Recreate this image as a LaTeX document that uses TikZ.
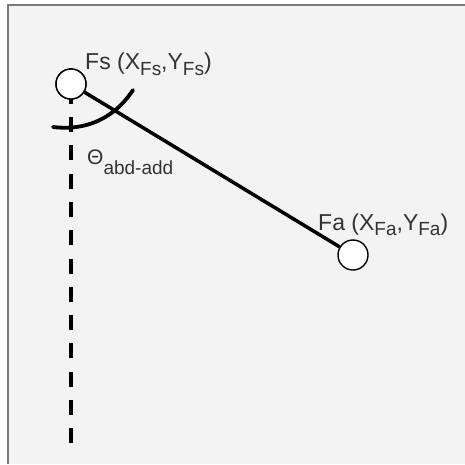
\documentclass[tikz,border=0pt]{standalone}
\usepackage{fontspec}
\setmainfont{Liberation Sans}
\definecolor{paper}{HTML}{F3F3F3}
\definecolor{frame}{HTML}{7A7A7A}
\definecolor{ink}{HTML}{333333}
\newcommand{\lowsub}[2]{\raisebox{#1}{\fontsize{19}{21}\selectfont #2}}
\begin{document}
\begin{tikzpicture}[x=1pt, y=-1pt,
    joint/.style={circle, draw, fill=white, line width=1.4pt, minimum size=30pt, inner sep=0pt},
    lbl/.style={text=ink, font=\fontsize{23}{26}\selectfont, inner sep=0pt, anchor=base west}]
    % Canvas
    \fill[white] (0,0) rectangle (465,464);
    \useasboundingbox (0,0) rectangle (465,464);
    \fill[paper] (8,5) rectangle (465,464);
    \draw[frame, line width=2pt] (8,464) -- (8,5) -- (465,5);

    % Joints
    \node[joint] (fs) at (71,84) {};
    \node[joint] (fa) at (353,255) {};
    \coordinate (vend) at (71,443);

    % Vertical reference
    \draw[line width=4pt, dash pattern=on 15pt off 13.3pt, dash phase=23.6pt] (fs.center) -- (vend);
    \node[joint] at (fs) {};

    % Segment
    \draw[line width=3.5pt] (fs) -- (fa);

    % Angle
    \draw[line width=3.8pt, line cap=round] (53,127) .. controls (95,132) and (120,110) .. (133,90);

    % Labels
    \node[lbl] (fslbl) at (85,69) {Fs (X\lowsub{-6pt}{Fs},Y\lowsub{-6pt}{Fs})};
    \node[lbl] (falbl) at (318,230) {Fa (X\lowsub{-5pt}{Fa},Y\lowsub{-5pt}{Fa})};
    \node[lbl, font=\fontsize{21}{24}\selectfont] (theta) at (87,164) {Θ\lowsub{-10pt}{abd-add}};
\end{tikzpicture}
\end{document}
